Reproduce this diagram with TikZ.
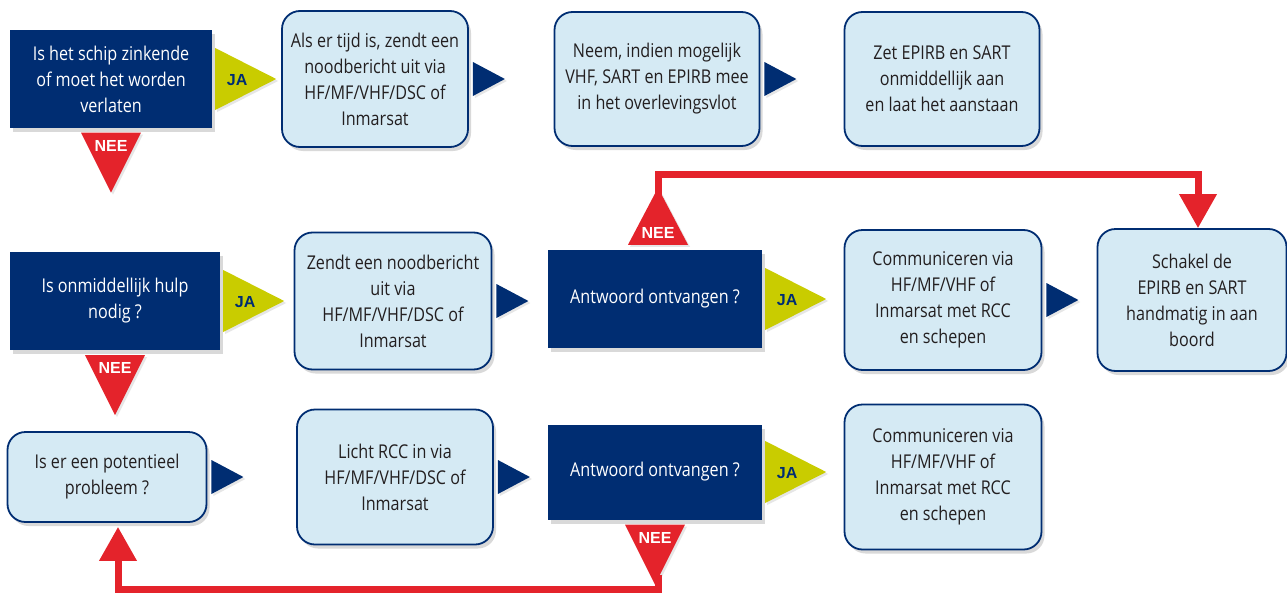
\documentclass[tikz,border=0pt]{standalone}
\usepackage{fontspec}
\setmainfont{Open Sans}[FakeStretch=0.85]
\newfontfamily\labelfont{Liberation Sans}
\usetikzlibrary{positioning, shadows, arrows.meta, calc}

\definecolor{navy}{HTML}{002D72}
\definecolor{paleblue}{HTML}{D5EAF4}
\definecolor{jayellow}{HTML}{C9CC00}
\definecolor{neered}{HTML}{E4232B}
\definecolor{boxtext}{HTML}{231F20}

\tikzstyle{question} = [rectangle, minimum width=212pt, minimum height=97pt, align=center, fill=navy, text=white, font=\fontsize{19}{26}\selectfont, drop shadow={shadow xshift=3pt, shadow yshift=-4pt, opacity=0.3}]
\tikzstyle{action} = [rectangle, rounded corners=18pt, minimum width=197pt, minimum height=137pt, align=center, draw=navy, line width=1.8pt, fill=paleblue, text=boxtext, font=\fontsize{19}{26}\selectfont, drop shadow={shadow xshift=3pt, shadow yshift=-4pt, opacity=0.3}]
\tikzstyle{pointer} = [fill=navy, drop shadow={shadow xshift=2pt, shadow yshift=-2pt, opacity=0.2}]
\tikzstyle{yes} = [fill=jayellow, drop shadow={shadow xshift=2pt, shadow yshift=-2pt, opacity=0.2}]
\tikzstyle{no} = [fill=neered, drop shadow={shadow xshift=2pt, shadow yshift=-2pt, opacity=0.2}]
\tikzstyle{yeslabel} = [inner sep=0pt, text=navy, font=\labelfont\bfseries\fontsize{16}{16}\selectfont]
\tikzstyle{nolabel} = [inner sep=0pt, text=white, font=\labelfont\bfseries\fontsize{16}{16}\selectfont]
\tikzstyle{redarrow} = [draw=neered, line width=7pt, -{Triangle[width=36pt,length=34pt]}]

\begin{document}
\begin{tikzpicture}[x=1pt, y=-1pt, node distance=280pt]
\useasboundingbox (0,0) rectangle (1287,594);

% Row 1: sinking ship
\node (q1) [question, minimum width=202pt] at (111,79) {Is het schip zinkende\\of moet het worden\\verlaten};
\node (a1) [action, right of=q1, xshift=-16pt, minimum width=186pt, minimum height=136pt] {Als er tijd is, zendt een\\noodbericht uit via\\HF/MF/VHF/DSC of\\Inmarsat};
\node (a2) [action, right of=a1, xshift=2pt, minimum width=205pt, minimum height=134pt] {Neem, indien mogelijk\\VHF, SART en EPIRB mee\\in het overlevingsvlot};
\node (a3) [action, right of=a2, xshift=5pt, minimum width=195pt, minimum height=134pt] {Zet EPIRB en SART\\onmiddellijk aan\\en laat  het aanstaan};

% Row 2: immediate help
\node (q2) [question, below of=q1, xshift=4pt, yshift=58pt, minimum width=210pt, minimum height=98pt] {Is onmiddellijk hulp\\nodig ?};
\node (b1) [action, right of=q2, xshift=-2pt] {Zendt een noodbericht\\uit via\\HF/MF/VHF/DSC of\\Inmarsat};
\node (q3) [question, right of=b1, xshift=-18pt, yshift=2pt, minimum width=214pt, minimum height=98pt] {Antwoord ontvangen ?};
\node (b2) [action, right of=q3, xshift=8pt, yshift=-1pt, minimum height=140pt] {Communiceren via\\HF/MF/VHF of\\Inmarsat met RCC\\en schepen};
\node (b3) [action, right of=b2, xshift=-31pt, minimum width=189pt, minimum height=142pt] {Schakel de\\EPIRB en SART\\handmatig in aan\\boord};

% Row 3: potential problem
\node (c1) [action, below of=q2, xshift=-8pt, yshift=104pt, minimum width=199pt, minimum height=90pt] {Is er een potentieel\\probleem ?};
\node (c2) [action, right of=c1, xshift=8pt, minimum width=196pt, minimum height=135pt] {Licht RCC in via\\HF/MF/VHF/DSC of\\Inmarsat};
\node (q4) [question, right of=c2, xshift=-20pt, yshift=5pt, minimum width=214pt, minimum height=95pt] {Antwoord ontvangen ?};
\node (c3) [action, right of=q4, xshift=8pt, yshift=-5pt, minimum height=145pt] {Communiceren via\\HF/MF/VHF of\\Inmarsat met RCC\\en schepen};

% Dark pointers between steps
\foreach \from in {a1, a2, b1, b2, c1, c2}
  \fill[pointer] ($(\from.east)+(4,-17)$) -- ++(32,17) -- ++(-32,17) -- cycle;

% JA triangles
\foreach \q in {q1, q2, q3, q4} {
  \fill[yes] ($(\q.east)+(3,-31)$) -- ++(61,31) -- ++(-61,31) -- cycle;
  \node (ja-\q) [yeslabel] at ($(\q.east)+(25,1)$) {JA};
}

% NEE triangles
\foreach \q in {q1, q2, q4} {
  \fill[no] ($(\q.south)+(-30,5)$) -- ++(60,0) -- ++(-30,60) -- cycle;
  \node (nee-\q) [nolabel] at ($(\q.south)+(0,18)$) {NEE};
}
\fill[no] ($(q3.north)+(-27,-5)$) -- ++(60,0) -- ++(-30,-57) -- cycle;
\node (nee-q3) [nolabel] at ($(q3.north)+(3,-17)$) {NEE};

% Red return lines
\coordinate (up) at ($(q3.north)+(3,-55)$);
\coordinate (down) at ($(q4.south)+(3,55)$);
\draw [redarrow] (up) -- ++(0,-20) -| ([xshift=6pt]b3.north);
\draw [redarrow] (down) -- ++(0,15) -| ([xshift=11pt, yshift=-4pt]c1.south);

\end{tikzpicture}
\end{document}
